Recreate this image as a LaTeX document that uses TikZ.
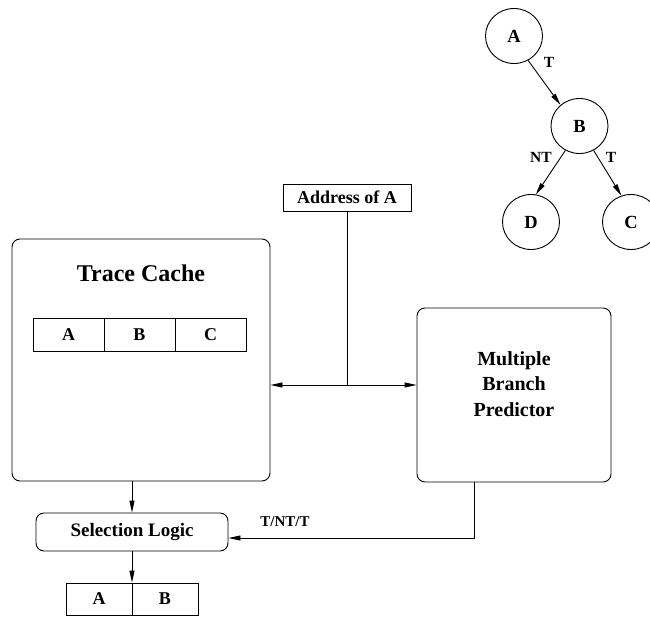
\documentclass[tikz,border=0pt]{standalone}
\usepackage{fontspec}
\setmainfont{Liberation Serif}
\usetikzlibrary{arrows.meta,shapes.geometric,calc}
\begin{document}
\begin{tikzpicture}[x=1pt,y=-1pt,
  every node/.style={font=\bfseries},
  lw/.style={line width=0.9pt},
  arr/.style={lw,-{Triangle[length=12pt,width=5pt]}},
  rbox/.style={lw,draw,rounded corners=8pt,inner sep=0pt},
  cell/.style={lw,draw,rectangle,minimum width=71pt,minimum height=33pt,inner sep=0pt,font=\fontsize{18}{20}\selectfont\bfseries},
  tnode/.style={lw,draw,ellipse,minimum width=57pt,minimum height=55pt,inner sep=0pt,font=\fontsize{18.5}{20}\selectfont\bfseries},
  elab/.style={font=\fontsize{15.5}{17}\selectfont\bfseries,inner sep=0pt}
]
\useasboundingbox (0,0) rectangle (650,616);

% tree
\node[tnode] (tA) at (514,36) {A};
\node[tnode] (tB) at (579.5,126) {B};
\node[tnode] (tD) at (531,222) {D};
\node[tnode] (tC) at (631,222) {C};
\draw[arr] (tA.300) -- (tB.132);
\draw[arr] (tB.240) -- (tD.80);
\draw[arr] (tB.300) -- (tC.110);
\node[elab] (lAB) at (549,62) {T};
\node[elab] (lBD) at (541,157) {NT};
\node[elab] (lBC) at (611,157) {T};

% address
\node[lw,draw,rectangle,minimum width=128pt,minimum height=27pt,inner sep=0pt,font=\fontsize{18}{20}\selectfont\bfseries] (addr) at (347,197.5) {Address of A};

% trace cache
\node[rbox,minimum width=258pt,minimum height=242pt] (tc) at (141,360) {};
\node[font=\fontsize{24}{26}\selectfont\bfseries] (tct) at (141,273) {Trace Cache};
\node[cell] (c1) at (68.5,334.5) {A};
\node[cell] (c2) at (139.5,334.5) {B};
\node[cell] (c3) at (210.5,334.5) {C};

% multiple branch predictor
\node[rbox,minimum width=194pt,minimum height=174pt] (mbp) at (514,395) {};
\node[align=center,font=\fontsize{20}{25.5}\selectfont\bfseries] (mbpt) at (514,384) {Multiple\\Branch\\Predictor};

% junction
\coordinate (j) at (347,385);
\draw[lw] (addr.south) -- (j);
\draw[arr] (j) -- (tc.east |- j);
\draw[arr] (j) -- (mbp.west |- j);

% selection logic
\node[rbox,minimum width=192pt,minimum height=38pt,font=\fontsize{19}{21}\selectfont\bfseries] (sel) at (132,532) {Selection Logic};
\draw[arr] (sel.north |- tc.south) -- (sel.north);

% output cells
\node[cell,minimum width=66pt,minimum height=32pt] (o1) at (99,599) {A};
\node[cell,minimum width=66pt,minimum height=32pt] (o2) at (165,599) {B};
\draw[arr] (sel.south) -- (sel.south |- o1.north);

% predictor to selection
\coordinate (k) at (474,538);
\draw[arr] (mbp.south -| k) -- (k) -- (sel.east |- k);
\node[font=\fontsize{15}{17}\selectfont\bfseries] (tnt) at (285,522) {T/NT/T};
\end{tikzpicture}
\end{document}
